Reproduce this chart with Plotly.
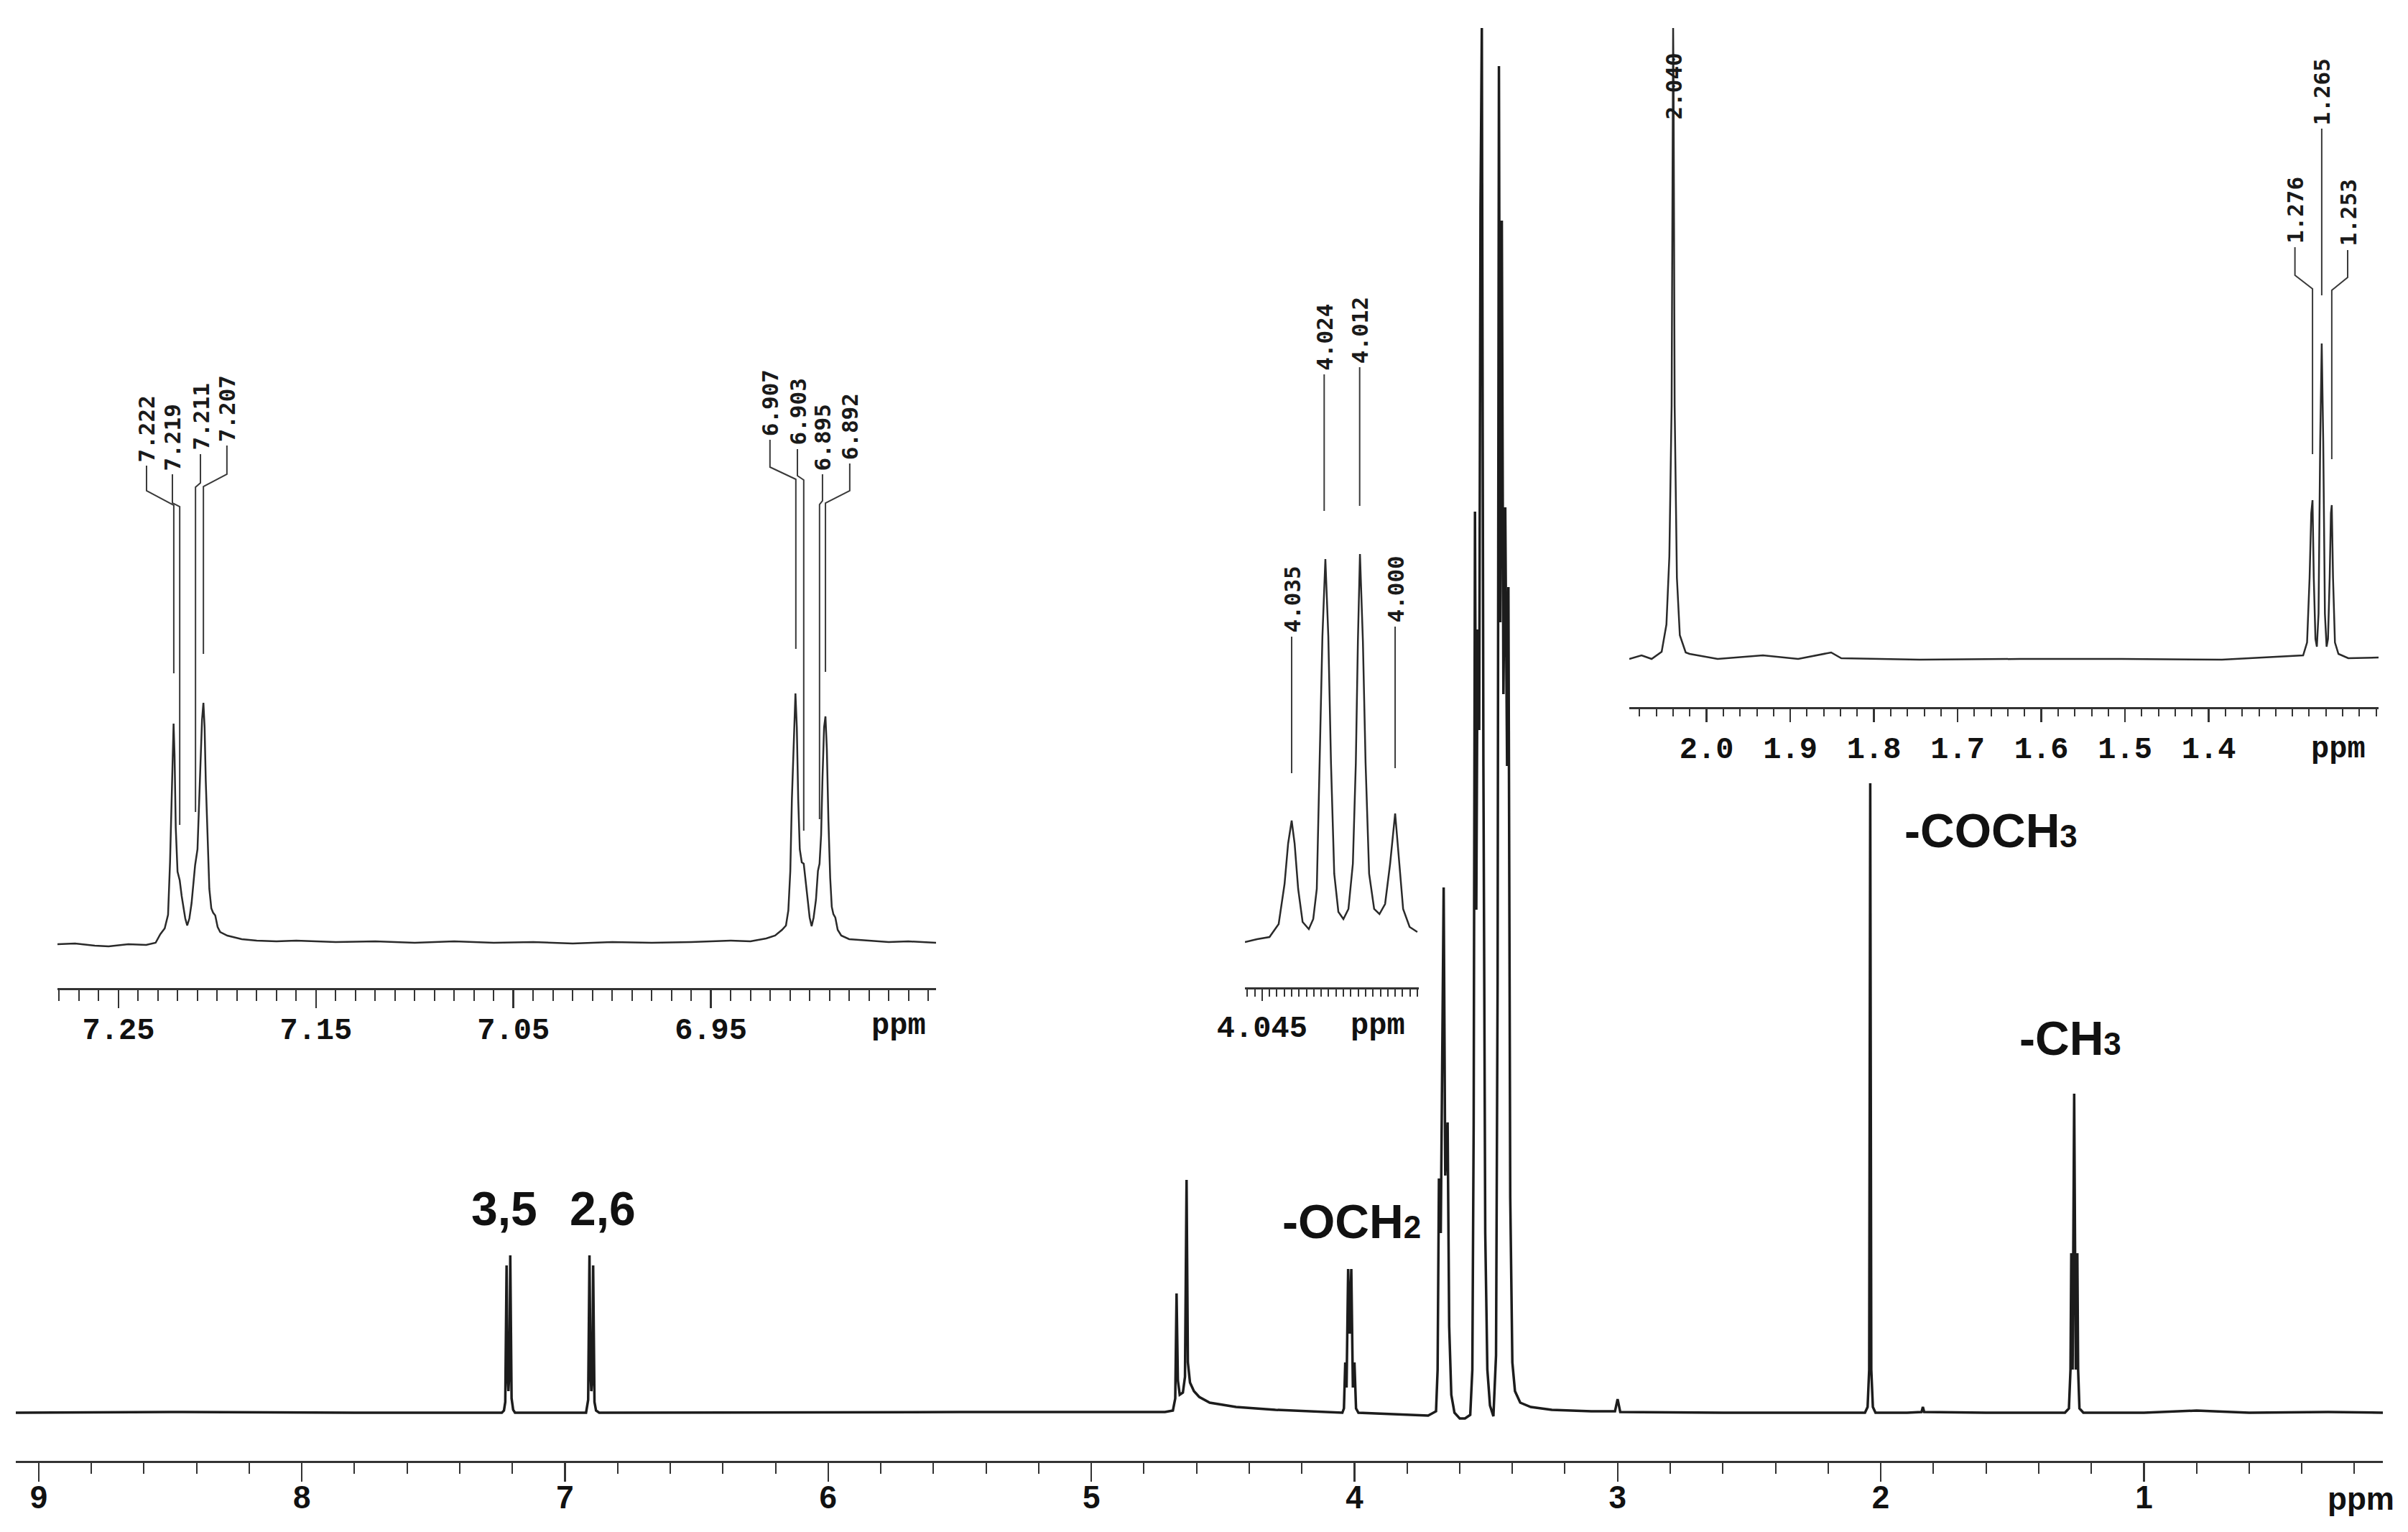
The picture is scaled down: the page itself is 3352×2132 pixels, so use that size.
import plotly.graph_objects as go

W, H = 3352, 2132

# ---------------- DATA (ppm, intensity in arbitrary units) ----------------
main_ppm = [9.09, 8.5, 7.8, 7.24, 7.232, 7.227, 7.222, 7.218, 7.215, 7.211, 7.208, 7.203, 7.197, 7.19,
            6.92, 6.912, 6.907, 6.903, 6.9, 6.896, 6.893, 6.888, 6.882, 6.87,
            5.5, 4.72, 4.69, 4.681, 4.676, 4.671, 4.664, 4.652, 4.644, 4.638, 4.633, 4.625, 4.61, 4.59, 4.55, 4.45, 4.3, 4.15, 4.06,
            4.046, 4.04, 4.035, 4.03, 4.024, 4.018, 4.012, 4.006, 4.0, 3.994, 3.985,
            3.72, 3.69, 3.684, 3.679, 3.672, 3.667, 3.661, 3.655, 3.646, 3.64, 3.632, 3.62, 3.6, 3.58, 3.56,
            3.552, 3.547, 3.542, 3.537, 3.532, 3.526, 3.521, 3.516, 3.51, 3.503, 3.495, 3.485, 3.472,
            3.462, 3.456, 3.451, 3.446, 3.44, 3.434, 3.427, 3.42, 3.415, 3.408, 3.4, 3.39, 3.37, 3.33, 3.25, 3.1, 3.01, 3.0, 2.99,
            2.6, 2.2, 2.06, 2.05, 2.044, 2.04, 2.036, 2.03, 2.02, 1.9, 1.845, 1.84, 1.835, 1.6, 1.3,
            1.285, 1.279, 1.276, 1.271, 1.265, 1.259, 1.253, 1.25, 1.245, 1.23, 1.0, 0.8, 0.6, 0.3, 0.09]
main_int = [0, 1, 0, 0, 3, 15, 205, 50, 30, 60, 219, 20, 4, 0,
            0, 18, 219, 55, 30, 50, 205, 15, 3, 0,
            1, 1, 3, 20, 166, 45, 25, 28, 50, 324, 70, 42, 30, 22, 14, 8, 4, 2, 0,
            0, 6, 70, 35, 200, 110, 200, 35, 70, 6, 0,
            -4, 2, 60, 326, 250, 450, 731, 330, 404, 120, 25, 0, -8, -8, -3,
            60, 400, 1254, 700, 1090, 950, 1678, 1927, 900, 250, 60, 10, -5,
            80, 600, 1874, 1100, 1659, 1000, 1260, 900, 1149, 300, 70, 30, 14, 8, 4, 2, 2, 19, 1,
            0, 0, 0, 8, 60, 876, 60, 8, 0, 0, 1, 8, 1, 0, 0,
            6, 60, 222, 60, 444, 60, 222, 60, 6, 0, 0, 3, 0, 1, 0]

arom_ppm = [7.2809, 7.272, 7.262, 7.255, 7.245, 7.236, 7.2312, 7.2288, 7.2266, 7.2249, 7.2239, 7.2231, 7.2226,
            7.2221, 7.2216, 7.221, 7.2201, 7.219, 7.218, 7.2172, 7.2162, 7.2152, 7.2141, 7.213, 7.212, 7.2112,
            7.21, 7.2094, 7.2085, 7.2077, 7.207, 7.2064, 7.2058, 7.2048, 7.204, 7.203, 7.2021, 7.201, 7.1998,
            7.1985, 7.1949, 7.1876, 7.18, 7.17, 7.16, 7.14, 7.12, 7.1, 7.08, 7.06, 7.04, 7.02, 7.0, 6.98, 6.96,
            6.94, 6.93, 6.922, 6.9175, 6.914, 6.912, 6.9108, 6.9098, 6.909, 6.908, 6.9072, 6.9065, 6.9058,
            6.905, 6.904, 6.903, 6.9022, 6.9012, 6.9, 6.899, 6.898, 6.8968, 6.8958, 6.895, 6.8942, 6.8935,
            6.8927, 6.892, 6.8913, 6.8905, 6.8896, 6.8888, 6.888, 6.887, 6.8858, 6.884, 6.88, 6.87, 6.86,
            6.85, 6.836]
arom_int = [-2, -1, -4, -5, -2, -3, 0, 12, 20, 39, 112, 199, 270,
            305, 260, 160, 99, 87, 65, 52, 34, 24, 34, 55, 85, 108,
            130, 179, 260, 310, 334, 300, 225, 129, 75, 48, 42, 38, 22,
            15, 10, 5, 3, 2, 3, 1, 2, 0, 2, 0, 1, -1, 1, 0, 1,
            3, 2, 6, 10, 18, 24, 45, 100, 200, 290, 347, 300, 200,
            130, 112, 110, 90, 60, 35, 23, 35, 60, 100, 110, 150, 230,
            300, 315, 270, 170, 90, 50, 40, 35, 18, 10, 5, 3, 1,
            2, 0]

och2_ppm = [4.0508, 4.0467, 4.0425, 4.0394, 4.0374, 4.0362, 4.035, 4.034, 4.0328, 4.0313, 4.0292, 4.0277,
            4.0265, 4.0255, 4.0246, 4.0236, 4.0226, 4.0217, 4.0206, 4.0192, 4.0175, 4.0158, 4.0143, 4.0133,
            4.0126, 4.0119, 4.0109, 4.01, 4.0088, 4.0071, 4.0053, 4.0034, 4.0017, 4.0, 3.9988, 3.9973,
            3.9951, 3.9925]
och2_int = [-1, 3, 6, 24, 80, 136, 168, 136, 73, 27, 17, 31,
            73, 248, 424, 532, 424, 248, 94, 41, 31, 45, 108, 248,
            417, 539, 417, 248, 94, 45, 38, 52, 108, 178, 122, 45,
            20, 13]

aliph_ppm = [2.0924, 2.0778, 2.0657, 2.0537, 2.048, 2.0445, 2.0418, 2.0405, 2.04, 2.0395, 2.0382, 2.0355,
             2.032, 2.025, 2.0203, 1.9868, 1.9327, 1.8906, 1.8512, 1.8391, 1.7456, 1.6254, 1.5044, 1.3842,
             1.2872, 1.2825, 1.2795, 1.2775, 1.276, 1.2745, 1.2725, 1.2708, 1.2688, 1.2668, 1.265, 1.2632,
             1.2612, 1.2592, 1.2575, 1.2555, 1.254, 1.253, 1.2515, 1.2492, 1.245, 1.2333, 1.1971]
aliph_int = [-3, 2, -3, 7, 45, 140, 350, 800, 875, 800, 350, 110,
             30, 6, 4, -3, 2, -3, 6, -2, -4, -3, -3, -4,
             2, 20, 110, 200, 218, 110, 25, 14, 60, 300, 436, 300,
             60, 14, 25, 110, 200, 211, 110, 20, 4, -2, -1]

main_tick_vals = [9, 8, 7, 6, 5, 4, 3, 2, 1]
main_tick_text = ["9", "8", "7", "6", "5", "4", "3", "2", "1"]
arom_tick_vals = [7.25, 7.2, 7.15, 7.1, 7.05, 7.0, 6.95, 6.9, 6.85]
arom_tick_text = ["7.25", "", "7.15", "", "7.05", "", "6.95", "", ""]
och2_tick_vals = [4.05, 4.045, 4.04, 4.035, 4.03, 4.025, 4.02, 4.015, 4.01, 4.005, 4.0, 3.995]
och2_tick_text = ["", "4.045", "", "", "", "", "", "", "", "", "", ""]
aliph_tick_vals = [2.0, 1.9, 1.8, 1.7, 1.6, 1.5, 1.4, 1.3, 1.2]
aliph_tick_text = ["2.0", "1.9", "1.8", "1.7", "1.6", "1.5", "1.4", "", ""]

arom_peak_labels = ["7.222", "7.219", "7.211", "7.207", "6.907", "6.903", "6.895", "6.892"]
och2_peak_labels = ["4.035", "4.024", "4.012", "4.000"]
aliph_peak_labels = ["2.040", "1.265", "1.276", "1.253"]

group_names = ["3,5", "2,6", "-OCH<span style='font-size:44px'>2</span>",
               "-COCH<span style='font-size:44px'>3</span>", "-CH<span style='font-size:44px'>3</span>"]

# ---------------- LAYOUT HELPERS (label placement, not data) ----------------
arom_lab_x = [7.2358, 7.2227, 7.2085, 7.1951, 6.9201, 6.9062, 6.8935, 6.8797]
arom_top = [664, 652, 680, 692, 700, 687, 652, 667]
arom_b1 = [629, 612, 640, 652, 662, 650, 615, 629]
arom_b2 = [609, 607, 634, 635, 645, 644, 610, 612]
arom_end = [375, 164, 182, 402, 409, 156, 172, 377]

och2_top = [424, 789, 799, 438]
och2_end = [234, 599, 606, 241]

aliph_lab_x = [2.040, 1.265, 1.297, 1.234]
aliph_top = [742, 735, 570, 566]
aliph_b1 = [742, 735, 531, 528]
aliph_b2 = [742, 735, 512, 510]
aliph_end = [742, 503, 282, 275]

group_x = [7.231, 6.857, 4.0095, 1.5825, 1.2796]
group_y = [284, 284, 266, 810, 521]

INK = "#1c1c1c"
AX = "#333333"


def dom_x(a, b):
    return [a / W, b / W]


def dom_y(top_px, bottom_px):
    return [1 - bottom_px / H, 1 - top_px / H]


fig = go.Figure()

fig.add_trace(go.Scatter(x=main_ppm, y=main_int, mode="lines", xaxis="x", yaxis="y",
                         line=dict(color=INK, width=3.5), hoverinfo="skip"))
fig.add_trace(go.Scatter(x=arom_ppm, y=arom_int, mode="lines", xaxis="x2", yaxis="y2",
                         line=dict(color="#2a2a2a", width=2.5), hoverinfo="skip"))
fig.add_trace(go.Scatter(x=och2_ppm, y=och2_int, mode="lines", xaxis="x3", yaxis="y3",
                         line=dict(color="#2a2a2a", width=2.5), hoverinfo="skip"))
fig.add_trace(go.Scatter(x=aliph_ppm, y=aliph_int, mode="lines", xaxis="x4", yaxis="y4",
                         line=dict(color="#2a2a2a", width=2.5), hoverinfo="skip"))


def leaders(labels, lab_x, top, b1, b2, end):
    xs, ys = [], []
    for lab, lx, t, y1, y2, e in zip(labels, lab_x, top, b1, b2, end):
        if t == e:
            continue
        p = float(lab)
        xs += [lx, lx, p, p, None]
        ys += [t, y1, y2, e, None]
    return xs, ys


lx1, ly1 = leaders(arom_peak_labels, arom_lab_x, arom_top, arom_b1, arom_b2, arom_end)
och2_x = [float(v) for v in och2_peak_labels]
lx2, ly2 = leaders(och2_peak_labels, och2_x, och2_top, och2_top, och2_top, och2_end)
lx3, ly3 = leaders(aliph_peak_labels, aliph_lab_x, aliph_top, aliph_b1, aliph_b2, aliph_end)
for xs, ys, xa, ya in [(lx1, ly1, "x2", "y2"), (lx2, ly2, "x3", "y3"), (lx3, ly3, "x4", "y4")]:
    fig.add_trace(go.Scatter(x=xs, y=ys, mode="lines", xaxis=xa, yaxis=ya,
                             line=dict(color="#3a3a3a", width=2), hoverinfo="skip"))

annotations = []
lab_font = dict(family="DejaVu Sans Mono, Liberation Mono", size=31, color="#1a1a1a", weight="bold")
for labs, xs, tops, xr, yr in [(arom_peak_labels, arom_lab_x, arom_top, "x2", "y2"),
                                (och2_peak_labels, och2_x, och2_top, "x3", "y3"),
                                (aliph_peak_labels, aliph_lab_x, aliph_top, "x4", "y4")]:
    for lab, x, t in zip(labs, xs, tops):
        annotations.append(dict(x=x, y=t + 4, xref=xr, yref=yr, text=lab, textangle=-90,
                                showarrow=False, xanchor="center", yanchor="bottom",
                                font=lab_font, borderpad=0))

grp_font = dict(family="Liberation Sans, Arial", size=66, color="#111111", weight="bold")
for name, x, y in zip(group_names, group_x, group_y):
    annotations.append(dict(x=x, y=y, xref="x", yref="y", text=name, showarrow=False,
                            xanchor="center", yanchor="middle", font=grp_font))

mono_tick = dict(family="Liberation Mono, DejaVu Sans Mono", size=42, color="#111111", weight="bold")
main_tick_font = dict(family="Liberation Sans Narrow, Liberation Sans, Arial", size=44, color="#111111",
                      weight="bold")

# "ppm" unit labels at the right end of each axis (x in ppm, y in page pixels)
for x, ypx, xr, f in [(0.175, 2085, "x", main_tick_font),
                      (6.855, 1428, "x2", mono_tick),
                      (4.0058, 1428, "x3", mono_tick),
                      (1.245, 1043, "x4", mono_tick)]:
    annotations.append(dict(x=x, y=1 - ypx / H, xref=xr, yref="paper", text="ppm", showarrow=False,
                            xanchor="center", yanchor="middle", font=f))


def frange(a, b, step):
    out = []
    n = int(round((a - b) / step))
    for i in range(n + 1):
        out.append(round(a - i * step, 5))
    return out


def xaxis_cfg(domain, rng, anchor, tv, tt, font, majlen, minvals, minlen, standoff):
    return dict(domain=domain, range=rng, anchor=anchor, showgrid=False, zeroline=False,
                showline=True, linecolor=AX, linewidth=3, automargin=False,
                tickmode="array", tickvals=tv, ticktext=tt, ticks="outside",
                ticklen=majlen, tickwidth=2.5, tickcolor=AX, tickfont=font,
                ticklabelstandoff=standoff,
                minor=dict(tickmode="array", tickvals=minvals, ticks="outside", ticklen=minlen,
                           tickwidth=2, tickcolor=AX, showgrid=False),
                fixedrange=True)


def yaxis_cfg(domain, rng, anchor):
    return dict(domain=domain, range=rng, anchor=anchor, visible=False, showgrid=False,
                zeroline=False, fixedrange=True, automargin=False)


fig.update_layout(
    width=W, height=H,
    margin=dict(l=0, r=0, t=0, b=0, pad=0, autoexpand=False),
    paper_bgcolor="white", plot_bgcolor="rgba(0,0,0,0)",
    showlegend=False,
    xaxis=xaxis_cfg(dom_x(22, 3317), [9.087, 0.092], "y", main_tick_vals, main_tick_text,
                    main_tick_font, 26, frange(9.0, 0.2, 0.2), 15, -16),
    yaxis=yaxis_cfg(dom_y(0, 2033), [-67, 1966], "x"),
    xaxis2=xaxis_cfg(dom_x(80, 1303), [7.2809, 6.836], "y2", arom_tick_vals, arom_tick_text,
                     mono_tick, 25, frange(7.28, 6.84, 0.01), 15, -7),
    yaxis2=yaxis_cfg(dom_y(470, 1375), [-63, 842], "x2"),
    xaxis3=xaxis_cfg(dom_x(1733, 1975), [4.0508, 3.9920], "y3", och2_tick_vals, och2_tick_text,
                     mono_tick, 16, frange(4.05, 3.9925, 0.0025), 10, 0),
    yaxis3=yaxis_cfg(dom_y(380, 1374), [-64, 930], "x3"),
    xaxis4=xaxis_cfg(dom_x(2268, 3311), [2.0924, 1.1971], "y4", aliph_tick_vals, aliph_tick_text,
                     mono_tick, 18, frange(2.08, 1.2, 0.02), 10, 0),
    yaxis4=yaxis_cfg(dom_y(0, 984), [-70, 914], "x4"),
    annotations=annotations,
)

fig.write_html("out.html", config={"displayModeBar": False, "staticPlot": True},
               post_script="document.body.style.margin='0px';document.body.style.overflow='hidden';")
